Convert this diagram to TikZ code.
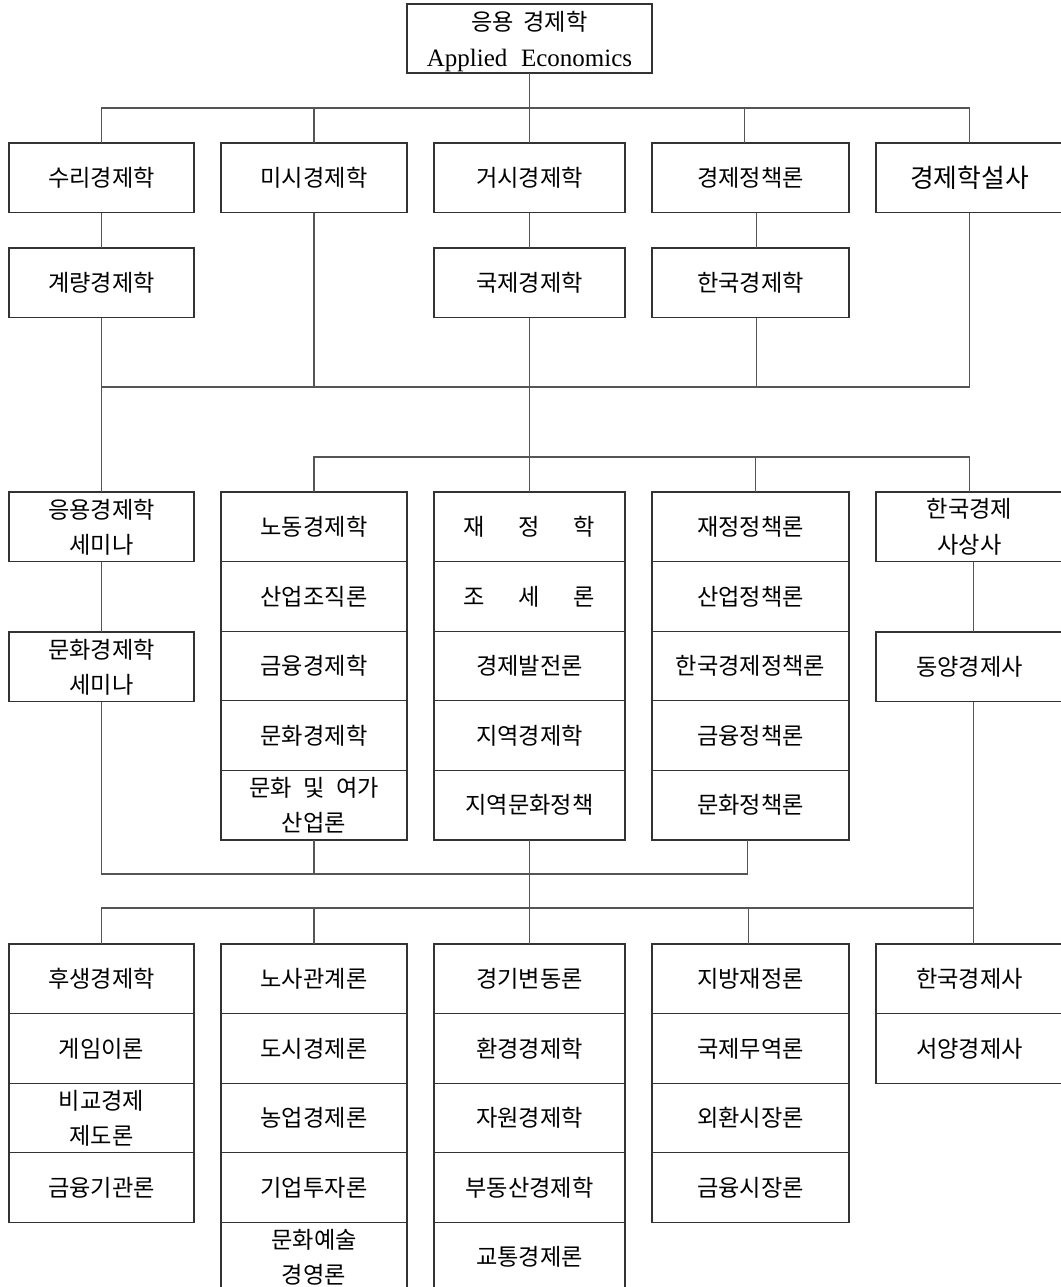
\documentclass[tikz,border=0pt]{standalone}
\usepackage{fontspec}
\setmainfont{Noto Sans CJK KR}
\newfontfamily\latinserif{Liberation Serif}
\usetikzlibrary{positioning}
\definecolor{boxDraw}{HTML}{333333}
\definecolor{lineDraw}{HTML}{555555}
\tikzset{
  box/.style ={draw=boxDraw, line width=0.6pt, align=center, inner sep=1pt, outer sep=0pt,
               minimum height=34.8pt, font=\fontsize{11.6}{17.5}\selectfont},
  cola/.style={box, minimum width=92.5pt},
  colb/.style={box, minimum width=93pt},
  colc/.style={box, minimum width=95.5pt},
  cold/.style={box, minimum width=98.5pt},
  cole/.style={box, minimum width=93.5pt},
  link/.style={draw=lineDraw, line width=0.6pt},
}

\begin{document}
\begin{tikzpicture}[x=0.5pt, y=-0.5pt, node distance=0pt]
  \path[use as bounding box, fill=white] (0,0) rectangle (1061,1287);

  % root
  \node[box, anchor=north, minimum width=122.5pt, minimum height=34.5pt, inner ysep=0pt,
        font=\fontsize{11.6}{18}\selectfont] (root) at (529.5,4)
    {\rule{0pt}{13pt}응용\hspace{.4em}경제학\\{\latinserif\fontsize{12.5}{18}\selectfont Applied\hspace{.55em}Economics}};

  % first level
  \node[cola, anchor=north] (suri)    at (101.5,143) {수리경제학};
  \node[colb, anchor=north] (misi)    at (314,143)   {미시경제학};
  \node[colc, anchor=north] (geosi)   at (529.5,143) {거시경제학};
  \node[cold, anchor=north] (jchk)    at (750.5,143) {경제정책론};
  \node[cole, anchor=north, font=\fontsize{12.9}{17.5}\selectfont] (hakseol) at (969.5,143) {경제학설사};

  \node[cola, anchor=north] (gyeryang) at (101.5,248) {계량경제학};
  \node[colc, anchor=north] (gukje)    at (529.5,248) {국제경제학};
  \node[cold, anchor=north] (hanhak)   at (750.5,248) {한국경제학};

  % second level
  \node[cola, anchor=north] (ungsem) at (101.5,492) {응용경제학\\세미나};
  \node[cola, anchor=north] (munsem) at (101.5,632) {문화경제학\\세미나};

  \node[colb, anchor=north] (nodong) at (314,492) {노동경제학};
  \node[colb, below=of nodong] (saneop)   {산업조직론};
  \node[colb, below=of saneop] (geumyung) {금융경제학};
  \node[colb, below=of geumyung] (munhwa) {문화경제학};
  \node[colb, below=of munhwa] (yeoga)    {문화\hspace{.5em}및\hspace{.5em}여가\\산업론};

  \node[colc, anchor=north] (jaejeong) at (529.5,492) {재\hspace{1.45em}정\hspace{1.45em}학};
  \node[colc, below=of jaejeong] (joseron) {조\hspace{1.45em}세\hspace{1.45em}론};
  \node[colc, below=of joseron] (baljeon)  {경제발전론};
  \node[colc, below=of baljeon] (jiyeok)   {지역경제학};
  \node[colc, below=of jiyeok] (jmunhwa)   {지역문화정책};

  \node[cold, anchor=north] (jpol) at (750.5,492) {재정정책론};
  \node[cold, below=of jpol] (spol) {산업정책론};
  \node[cold, below=of spol] (hpol) {한국경제정책론};
  \node[cold, below=of hpol] (gpol) {금융정책론};
  \node[cold, below=of gpol] (mpol) {문화정책론};

  \node[cole, anchor=north] (sasang)   at (969.5,492) {한국경제\\사상사};
  \node[cole, anchor=north] (dongyang) at (969.5,632) {동양경제사};

  % third level
  \node[cola, anchor=north] (husaeng) at (101.5,944) {후생경제학};
  \node[cola, below=of husaeng] (geim)  {게임이론};
  \node[cola, below=of geim] (bigyo)    {비교경제\\제도론};
  \node[cola, below=of bigyo] (gigwan)  {금융기관론};

  \node[colb, anchor=north] (nosa) at (314,944) {노사관계론};
  \node[colb, below=of nosa] (dosi)     {도시경제론};
  \node[colb, below=of dosi] (nongeop)  {농업경제론};
  \node[colb, below=of nongeop] (gieop) {기업투자론};
  \node[colb, below=of gieop] (yesul)   {문화예술\\경영론};

  \node[colc, anchor=north] (gyeonggi) at (529.5,944) {경기변동론};
  \node[colc, below=of gyeonggi] (hwangyeong) {환경경제학};
  \node[colc, below=of hwangyeong] (jawon)    {자원경제학};
  \node[colc, below=of jawon] (budong)        {부동산경제학};
  \node[colc, below=of budong] (gyotong)      {교통경제론};

  \node[cold, anchor=north] (jibang) at (750.5,944) {지방재정론};
  \node[cold, below=of jibang] (muyeok) {국제무역론};
  \node[cold, below=of muyeok] (oehwan) {외환시장론};
  \node[cold, below=of oehwan] (sijang) {금융시장론};

  \node[cole, anchor=north] (hangsa) at (969.5,944) {한국경제사};
  \node[cole, below=of hangsa] (seoyang) {서양경제사};

  % bus heights
  \coordinate (b1) at (0,108);
  \coordinate (b2) at (0,387);
  \coordinate (b3) at (0,457);
  \coordinate (b4) at (0,874);
  \coordinate (b5) at (0,908);
  \coordinate (d1) at ([xshift=-3pt]jchk.north);
  \coordinate (d2) at ([xshift=3pt]jchk.south);
  \coordinate (d3) at ([xshift=3pt]hanhak.north);
  \coordinate (d4) at ([xshift=3pt]hanhak.south);
  \coordinate (d5) at ([xshift=2.5pt]jpol.north);
  \coordinate (d6) at ([xshift=-1.5pt]mpol.south);
  \coordinate (d7) at ([xshift=-1pt]jibang.north);
  \coordinate (e1) at ([xshift=2pt]sasang.south);
  \coordinate (e2) at ([xshift=2pt]dongyang.north);
  \coordinate (e3) at ([xshift=2pt]dongyang.south);
  \coordinate (e4) at ([xshift=2pt]hangsa.north);

  % root to first level
  \draw[link] (root) -- (root |- b1);
  \draw[link] (suri.north) |- (b1 -| hakseol.north) -- (hakseol.north);
  \draw[link] (misi) -- (misi |- b1);
  \draw[link] (geosi) -- (geosi |- b1);
  \draw[link] (d1) -- (d1 |- b1);
  \draw[link] (suri) -- (gyeryang);
  \draw[link] (geosi) -- (gukje);
  \draw[link] (d2) -- (d3);

  % first level to second level
  \draw[link] (gyeryang) -- (ungsem);
  \draw[link] (gyeryang.south |- b2) -| (hakseol.south);
  \draw[link] (misi) -- (misi |- b2);
  \draw[link] (d4) -- (d4 |- b2);
  \draw[link] (gukje) -- (jaejeong);
  \draw[link] (nodong.north) |- (b3 -| sasang.north) -- (sasang.north);
  \draw[link] (d5) -- (d5 |- b3);
  \draw[link] (ungsem) -- (munsem);
  \draw[link] (e1) -- (e2);

  % second level to third level
  \draw[link] (munsem.south) |- (b4 -| d6) -- (d6);
  \draw[link] (yeoga) -- (yeoga |- b4);
  \draw[link] (jmunhwa) -- (gyeonggi);
  \draw[link] (e3) -- (e4);
  \draw[link] (husaeng.north) |- (b5 -| e4);
  \draw[link] (nosa) -- (nosa |- b5);
  \draw[link] (d7) -- (d7 |- b5);
\end{tikzpicture}
\end{document}
